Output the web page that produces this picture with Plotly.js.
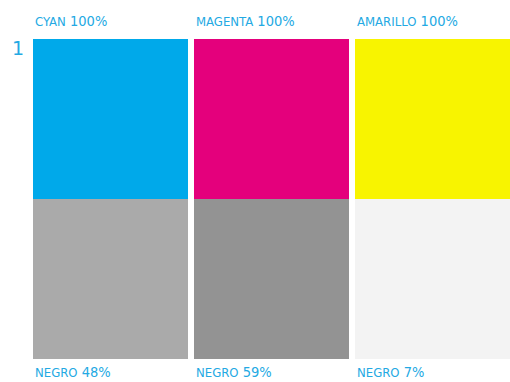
<!DOCTYPE html>
<html>
<head>
<meta charset="utf-8">
<script src="https://cdn.plot.ly/plotly-3.0.1.min.js"></script>
<style>html,body{margin:0;padding:0;background:#fff;}#chart{width:510px;height:382px;}</style>
</head>
<body>
<div id="chart"></div>
<script>
var columns = [0, 1, 2];
var topNames = ['CYAN', 'MAGENTA', 'AMARILLO'];
var topPercents = [100, 100, 100];
var bottomNames = ['NEGRO', 'NEGRO', 'NEGRO'];
var bottomPercents = [48, 59, 7];
var rowValues = [1, 1, 1];
var rowLabel = '1';

var topColors = ['#00A9EA', '#E4007C', '#F8F400'];
var bottomColors = ['#AAAAAA', '#939393', '#F3F3F3'];
var labelColor = '#23A9E3';
var W = 0.965;

var traces = [
  {type: 'bar', x: columns, y: rowValues, width: W, marker: {color: bottomColors, line: {width: 0}}, hoverinfo: 'skip'},
  {type: 'bar', x: columns, y: rowValues, width: W, marker: {color: topColors, line: {width: 0}}, hoverinfo: 'skip'}
];

var font = 'DejaVu Sans Condensed, DejaVu Sans, sans-serif';
function lab(name, pct) {
  return '<span style="font-size:13px">' + name + '</span> <span style="font-size:14.5px">' + pct + '%</span>';
}
var ann = [];
columns.forEach(function (c, i) {
  ann.push({xref: 'x', yref: 'y', x: c - W / 2, y: 2, xanchor: 'left', yanchor: 'bottom', xshift: 0, yshift: 8,
    text: lab(topNames[i], topPercents[i]), showarrow: false, font: {family: font, color: labelColor, size: 14.5}});
  ann.push({xref: 'x', yref: 'y', x: c - W / 2, y: 0, xanchor: 'left', yanchor: 'top', xshift: 0, yshift: -3,
    text: lab(bottomNames[i], bottomPercents[i]), showarrow: false, font: {family: font, color: labelColor, size: 14.5}});
});
ann.push({xref: 'paper', yref: 'y', x: 0, y: 2, xanchor: 'right', yanchor: 'top', xshift: -7, yshift: 4,
  text: rowLabel, showarrow: false, font: {family: 'DejaVu Sans, sans-serif', color: labelColor, size: 19}});

var layout = {
  width: 510, height: 382,
  margin: {l: 33, r: 0, t: 39, b: 23},
  barmode: 'stack',
  showlegend: false,
  paper_bgcolor: '#fff', plot_bgcolor: '#fff',
  xaxis: {range: [-W / 2, 2 + W / 2], visible: false, fixedrange: true},
  yaxis: {range: [0, 2], visible: false, fixedrange: true},
  annotations: ann
};
Plotly.newPlot('chart', traces, layout, {displayModeBar: false, staticPlot: true});
</script>
</body>
</html>
